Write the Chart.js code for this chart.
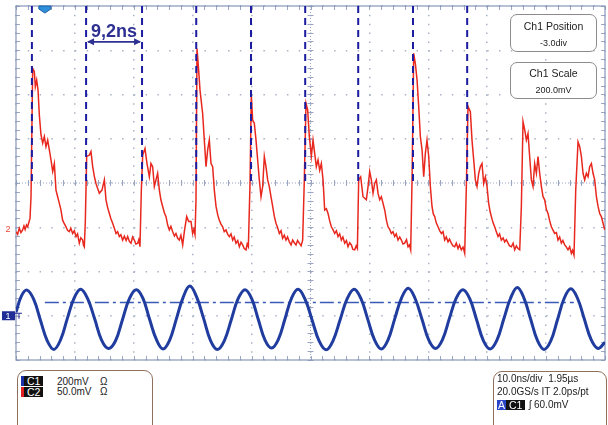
<!DOCTYPE html>
<html><head><meta charset="utf-8">
<script src="https://cdn.jsdelivr.net/npm/chart.js@4.4.0/dist/chart.umd.min.js"></script>
<style>
html,body{margin:0;padding:0;background:#fff;}
#wrap{position:relative;width:608px;height:425px;overflow:hidden;font-family:"Liberation Sans",Arial,Helvetica,sans-serif;color:#222;}
canvas{position:absolute;left:0;top:0;}
.box{position:absolute;background:#fff;box-sizing:border-box;}
.ibox{border:1.5px solid #8c8c8c;border-radius:7px;text-align:center;}
.ibox .a{position:absolute;left:0;right:0;font-size:10.5px;}
.ibox .b{position:absolute;left:0;right:0;font-size:9px;}
.pbox{border:1.5px solid #8e705c;border-radius:9px;}
.row{position:absolute;font-size:10px;line-height:11px;white-space:pre;}
.tag{position:absolute;background:#111;color:#fff;font-size:10.5px;line-height:10px;height:10px;padding:0 3px;}
.stripe{position:absolute;width:3px;height:10px;}
</style></head><body>
<div id="wrap">
<canvas id="c" width="608" height="425"></canvas>
<div class="box ibox" style="left:510px;top:14px;width:87px;height:38px;">
  <div class="a" style="top:5px;">Ch1 Position</div>
  <div class="b" style="top:23px;">-3.0div</div>
</div>
<div class="box ibox" style="left:510px;top:62px;width:87px;height:37px;">
  <div class="a" style="top:4px;">Ch1 Scale</div>
  <div class="b" style="top:22px;">200.0mV</div>
</div>
<div class="box pbox" style="left:17px;top:370px;width:136px;height:70px;">
  <div class="stripe" style="left:3px;top:5px;background:#1a2fa8;"></div>
  <div class="tag" style="left:6px;top:5px;">C1</div>
  <div class="row" style="left:39px;top:5px;">200mV</div>
  <div class="row" style="left:82px;top:5px;">Ω</div>
  <div class="stripe" style="left:3px;top:16px;background:#e02020;"></div>
  <div class="tag" style="left:6px;top:16px;">C2</div>
  <div class="row" style="left:39px;top:15px;">50.0mV</div>
  <div class="row" style="left:82px;top:15px;">Ω</div>
</div>
<div class="box pbox" style="left:493px;top:371px;width:114px;height:70px;">
  <div class="row" style="left:3px;top:1px;">10.0ns/div  1.95µs</div>
  <div class="row" style="left:3px;top:14px;">20.0GS/s IT 2.0ps/pt</div>
  <div class="tag" style="left:3px;top:28px;background:#2a44c8;padding:0 1px;">A</div>
  <div class="tag" style="left:12px;top:28px;">C1</div>
  <div class="row" style="left:35px;top:27px;">ʃ 60.0mV</div>
</div>
</div>
<script>
// ---- data (time in ns, level in divisions) ----
const ch2Samples = [
[0.00,-1.10],[0.28,-1.16],[0.55,-1.02],[0.84,-1.12],[1.13,-1.06],[1.35,-0.97],[1.55,-1.05],[1.78,-0.95],[1.98,-0.99],[2.20,-0.88],[2.38,-0.80],
[2.55,-0.31],[2.83,2.59],[3.11,2.52],[3.28,2.18],[3.51,2.33],[3.74,2.10],[3.96,1.54],[4.24,1.09],[4.53,0.90],[4.81,1.05],[5.09,0.82],[5.38,0.97],[5.66,0.75],[5.94,0.52],[6.23,0.26],[6.51,0.44],
[6.79,-0.16],[7.05,-0.30],[7.36,-0.46],[7.62,-0.60],[7.92,-0.84],[8.20,-0.92],[8.49,-0.99],[8.75,-1.07],[9.05,-1.10],[9.30,-1.02],[9.62,-1.14],[9.90,-1.08],[10.19,-1.21],[10.45,-1.15],[10.75,-1.36],[11.00,-1.24],[11.32,-1.29],[11.45,-1.40],[11.60,-1.44],[11.77,-0.87],
[12.00,0.60],[12.45,0.63],[12.73,0.71],[13.02,0.37],[13.30,0.15],[13.58,-0.01],[13.85,-0.12],[14.15,-0.23],[14.60,-0.16],[15.00,0.07],
[15.28,-0.38],[15.55,-0.55],[15.85,-0.69],[16.10,-0.80],[16.41,-0.91],[16.70,-1.02],[16.98,-1.14],[17.25,-1.10],[17.54,-1.21],[17.80,-1.17],[18.11,-1.29],[18.40,-1.20],[18.70,-1.30],[18.96,-1.21],[19.25,-1.32],[19.52,-1.36],[19.80,-1.22],[20.09,-1.29],[20.35,-1.38],[20.66,-1.36],[20.85,-1.28],[21.05,-1.44],
[21.28,-0.16],[21.51,0.63],[21.90,0.78],[22.24,0.44],[22.64,0.14],[22.92,0.44],[23.20,0.37],[23.49,-0.08],[24.05,0.22],
[24.34,-0.16],[24.60,-0.38],[24.90,-0.53],[25.20,-0.68],[25.47,-0.76],[25.75,-0.95],[26.03,-1.06],[26.30,-0.98],[26.60,-1.10],[26.90,-1.20],[27.16,-1.14],[27.45,-1.25],[27.73,-1.29],[28.00,-1.18],[28.30,-1.40],[28.58,-1.10],[28.98,-0.76],[29.32,-0.87],[29.71,-0.87],[29.99,-1.14],[30.20,-1.05],[30.39,-1.17],
[30.56,-0.38],[30.73,3.04],[31.01,2.55],[31.24,2.10],[31.69,1.57],[31.97,0.97],[32.26,0.37],[32.54,0.75],[32.82,0.97],[33.11,0.44],[33.39,0.37],[33.67,-0.16],
[33.96,-0.53],[34.25,-0.72],[34.52,-0.84],[34.80,-0.93],[35.09,-0.99],[35.35,-1.10],[35.65,-1.06],[35.95,-1.16],[36.22,-1.21],[36.50,-1.15],[36.79,-1.29],[37.05,-1.22],[37.35,-1.36],[37.65,-1.30],[37.92,-1.44],[38.20,-1.34],[38.48,-1.40],[38.75,-1.48],[39.05,-1.51],[39.25,-1.38],[39.45,-1.44],
[39.73,-0.01],[39.95,1.99],[40.18,1.42],[40.46,1.35],[40.75,0.97],[41.03,0.52],[41.31,0.07],[41.60,-0.31],[41.88,-0.08],[42.16,0.60],[42.44,0.37],[42.73,0.07],[43.01,-0.08],[43.29,-0.31],
[43.58,-0.53],[43.85,-0.75],[44.14,-0.91],[44.40,-1.00],[44.71,-1.14],[45.00,-1.08],[45.27,-1.25],[45.55,-1.18],[45.84,-1.29],[46.10,-1.22],[46.41,-1.33],[46.70,-1.40],[46.97,-1.29],[47.25,-1.35],[47.54,-1.40],[47.80,-1.30],[48.10,-1.36],[48.40,-1.42],[48.67,-1.29],
[48.95,0.07],[49.24,1.80],[49.52,1.65],[49.80,1.05],[50.14,0.60],[50.43,0.97],[50.71,0.67],[50.99,0.37],[51.28,0.52],[51.56,0.29],[51.84,0.44],[52.13,0.07],
[52.41,-0.61],[52.70,-0.58],[52.98,-0.69],[53.25,-0.85],[53.54,-0.99],[53.80,-1.05],[54.11,-1.14],[54.40,-1.08],[54.67,-1.21],[54.95,-1.15],[55.24,-1.29],[55.50,-1.22],[55.81,-1.36],[56.10,-1.30],[56.37,-1.44],[56.65,-1.35],[56.94,-1.40],[57.20,-1.50],[57.50,-1.51],[57.75,-1.42],[57.96,-1.48],
[58.18,0.07],[58.52,0.14],[58.92,-0.31],[59.48,-0.38],[59.77,-0.08],[60.05,0.26],[60.33,0.07],[60.62,-0.23],[60.90,-0.01],[61.18,0.07],[61.46,-0.23],[61.75,-0.38],[62.03,-0.31],
[62.60,-0.61],[62.90,-0.85],[63.16,-0.99],[63.45,-1.05],[63.73,-1.14],[64.00,-1.10],[64.29,-1.21],[64.55,-1.15],[64.86,-1.29],[65.15,-1.22],[65.43,-1.29],[65.70,-1.38],[65.99,-1.36],[66.30,-1.28],[66.56,-1.44],[66.80,-1.40],[67.01,-1.51],
[67.24,0.07],[67.52,2.93],[67.80,2.70],[68.09,2.33],[68.37,1.73],[68.65,1.05],[68.94,0.75],[69.22,0.14],[69.50,0.67],[69.78,0.97],[70.07,0.60],[70.35,-0.08],
[70.63,-0.53],[70.85,-0.70],[71.09,-0.76],[71.35,-0.90],[71.65,-0.99],[71.95,-1.08],[72.22,-1.14],[72.50,-1.10],[72.78,-1.29],[73.05,-1.22],[73.35,-1.33],[73.60,-1.27],[73.91,-1.36],[74.20,-1.42],[74.48,-1.44],[74.75,-1.36],[75.05,-1.48],[75.30,-1.40],[75.61,-1.51],[75.90,-1.45],[76.18,-1.59],
[76.46,-0.08],[76.74,1.73],[77.14,1.61],[77.42,0.97],[77.71,0.52],[77.99,0.07],[78.27,-0.08],[78.56,0.22],[78.84,0.37],[79.12,0.44],[79.40,-0.01],[79.69,0.14],[79.97,-0.08],
[80.25,-0.46],[80.50,-0.65],[80.71,-0.76],[81.00,-0.90],[81.27,-0.99],[81.55,-1.10],[81.84,-1.21],[82.10,-1.15],[82.40,-1.29],[82.70,-1.24],[82.97,-1.33],[83.25,-1.28],[83.54,-1.36],[83.80,-1.42],[84.10,-1.44],[84.40,-1.36],[84.67,-1.51],[84.95,-1.42],[85.23,-1.48],[85.52,-1.51],
[85.80,-0.53],[86.08,1.39],[86.37,1.20],[86.65,0.97],[86.93,1.12],[87.21,0.60],[87.50,0.07],[87.78,-0.08],[88.06,0.44],[88.35,0.22],[88.63,0.60],[88.91,0.22],[89.20,-0.08],[89.48,-0.31],
[89.76,-0.38],[90.05,-0.60],[90.33,-0.69],[90.60,-0.85],[90.89,-0.99],[91.15,-1.06],[91.46,-1.14],[91.75,-1.12],[92.02,-1.29],[92.30,-1.22],[92.59,-1.36],[92.85,-1.30],[93.16,-1.40],[93.45,-1.45],[93.72,-1.51],[94.00,-1.44],[94.29,-1.59],[94.50,-1.52],[94.74,-1.63],
[95.03,-0.16],[95.42,0.93],[95.71,0.82],[95.99,0.60],[96.27,0.22],[96.55,0.07],[96.84,0.22],[97.12,0.14],[97.40,0.37],[97.69,0.44],[97.97,0.22],[98.25,0.07],[98.54,-0.31],[98.82,-0.53],[99.10,-0.69],[99.38,-0.76],[99.67,-0.91],[99.95,-1.06]
];
const ch1Samples = [
[0,-2.92],[0.93,-2.55],
[1.87,-2.42],[3.01,-2.63],[4.15,-3.10],[5.29,-3.56],[6.44,-3.76],[7.58,-3.54],[8.72,-3.06],[9.86,-2.60],
[11.0,-2.40],[12.18,-2.62],[13.35,-3.07],[14.53,-3.55],[15.7,-3.74],[16.88,-3.57],[18.05,-3.10],[19.23,-2.62],
[20.4,-2.41],[21.54,-2.60],[22.68,-3.08],[23.81,-3.53],[24.95,-3.75],[26.09,-3.55],[27.23,-3.07],[28.36,-2.59],
[29.5,-2.33],[30.68,-2.58],[31.85,-3.06],[33.03,-3.56],[34.2,-3.76],[35.38,-3.56],[36.55,-3.09],[37.73,-2.61],
[38.9,-2.41],[40.03,-2.62],[41.15,-3.09],[42.28,-3.55],[43.4,-3.73],[44.53,-3.54],[45.65,-3.08],[46.78,-2.60],
[47.9,-2.40],[49.09,-2.63],[50.28,-3.10],[51.46,-3.57],[52.65,-3.77],[53.84,-3.56],[55.03,-3.09],[56.21,-2.62],
[57.4,-2.40],[58.55,-2.61],[59.7,-3.07],[60.85,-3.54],[62.0,-3.75],[63.15,-3.55],[64.3,-3.07],[65.45,-2.60],
[66.6,-2.38],[67.76,-2.61],[68.93,-3.08],[70.09,-3.55],[71.25,-3.74],[72.41,-3.54],[73.58,-3.06],[74.74,-2.60],
[75.9,-2.41],[77.05,-2.62],[78.2,-3.09],[79.35,-3.56],[80.5,-3.75],[81.65,-3.55],[82.8,-3.08],[83.95,-2.61],
[85.1,-2.36],[86.24,-2.60],[87.38,-3.08],[88.51,-3.55],[89.65,-3.76],[90.79,-3.57],[91.93,-3.09],[93.06,-2.61],
[94.2,-2.39],[95.35,-2.61],[96.5,-3.08],[97.65,-3.54],[98.8,-3.74],[100,-3.60]
];
const cursorTimes = [2.7, 11.9, 21.4, 30.6, 39.9, 49.1, 58.1, 67.4, 76.6];
const cursorSpan = [0, 4];            // cursor lines run from level 0 to top
const triggerLevel = -2.7;            // 60 mV on Ch1 (200 mV/div, -3 div offset)
const triggerSpan = [4.9, 94.7];
const triggerTime = 4.9;
const ch1Ground = -3.0, ch2Ground = -1.04;
const periodMark = {from: 11.9, to: 21.4, level: 3.19, label: '9,2ns'};
const timeRange = [0, 100], levelRange = [-4, 4];

const cursorData = [];
cursorTimes.forEach(t => { cursorData.push({x:t,y:cursorSpan[1]},{x:t,y:cursorSpan[0]},{x:t,y:null}); });

const scopePlugin = {
  id: 'scope',
  beforeDatasetsDraw(chart) {
    const {ctx, chartArea: a, scales: {x, y}} = chart;
    ctx.save();
    const cx = x.getPixelForValue(50), cy = y.getPixelForValue(0);
    ctx.strokeStyle = '#9aa6c2'; ctx.lineWidth = 1;
    ctx.setLineDash([1, 2]);
    ctx.beginPath(); ctx.moveTo(a.left, cy); ctx.lineTo(a.right, cy); ctx.moveTo(cx, a.top); ctx.lineTo(cx, a.bottom); ctx.stroke();
    ctx.setLineDash([]);
    ctx.beginPath();
    for (let t = 0; t <= 100.01; t += 2) {
      const px = Math.round(x.getPixelForValue(t)) + 0.5;
      ctx.moveTo(px, cy - 3); ctx.lineTo(px, cy + 3);
      ctx.moveTo(px, a.top); ctx.lineTo(px, a.top + 4);
      ctx.moveTo(px, a.bottom); ctx.lineTo(px, a.bottom - 4);
    }
    for (let v = -4; v <= 4.01; v += 0.2) {
      const py = Math.round(y.getPixelForValue(v)) + 0.5;
      ctx.moveTo(cx - 3, py); ctx.lineTo(cx + 3, py);
      ctx.moveTo(a.left, py); ctx.lineTo(a.left + 4, py);
      ctx.moveTo(a.right, py); ctx.lineTo(a.right - 4, py);
    }
    ctx.stroke();
    ctx.strokeStyle = '#8797b8'; ctx.lineWidth = 1.2;
    ctx.strokeRect(a.left, a.top, a.right - a.left, a.bottom - a.top);
    ctx.restore();
  },
  afterDatasetsDraw(chart) {
    const {ctx, chartArea: a, scales: {x, y}} = chart;
    ctx.save();
    const x1 = x.getPixelForValue(periodMark.from), x2 = x.getPixelForValue(periodMark.to), py = y.getPixelForValue(periodMark.level);
    ctx.strokeStyle = '#2e3192'; ctx.fillStyle = '#2e3192'; ctx.lineWidth = 1.6;
    ctx.beginPath(); ctx.moveTo(x1 + 2, py); ctx.lineTo(x2 - 2, py); ctx.stroke();
    ctx.beginPath(); ctx.moveTo(x1 + 1, py); ctx.lineTo(x1 + 8, py - 3.5); ctx.lineTo(x1 + 8, py + 3.5); ctx.closePath(); ctx.fill();
    ctx.beginPath(); ctx.moveTo(x2 - 1, py); ctx.lineTo(x2 - 8, py - 3.5); ctx.lineTo(x2 - 8, py + 3.5); ctx.closePath(); ctx.fill();
    ctx.font = 'bold 18px "Liberation Sans", Arial, sans-serif';
    ctx.textAlign = 'center'; ctx.textBaseline = 'alphabetic';
    ctx.fillText(periodMark.label, (x1 + x2) / 2, py - 4.5);
    const tx = x.getPixelForValue(triggerTime);
    ctx.fillStyle = '#2f8fd8'; ctx.strokeStyle = '#1a5fa8'; ctx.lineWidth = 1;
    ctx.beginPath(); ctx.moveTo(tx - 6, a.top); ctx.lineTo(tx + 6, a.top); ctx.lineTo(tx + 6, a.top + 3); ctx.lineTo(tx, a.top + 7); ctx.lineTo(tx - 6, a.top + 3); ctx.closePath(); ctx.fill(); ctx.stroke();
    const g2 = y.getPixelForValue(ch2Ground), g1 = y.getPixelForValue(ch1Ground);
    ctx.font = '9px "Liberation Sans", Arial, sans-serif';
    ctx.textAlign = 'center'; ctx.textBaseline = 'middle';
    ctx.fillStyle = '#e8473a'; ctx.fillText('2', 8, g2);
    ctx.fillStyle = '#1f2f95'; ctx.fillRect(2, g1 - 4.5, 13, 9);
    ctx.fillStyle = '#fff'; ctx.fillText('1', 8, g1 + 0.5);
    ctx.strokeStyle = '#1f2f95'; ctx.lineWidth = 1;
    ctx.beginPath(); ctx.moveTo(15, g1 - 2.5); ctx.lineTo(22, g1 - 2.5); ctx.moveTo(19, g1 - 2.5); ctx.lineTo(19, g1 + 3); ctx.stroke();
    ctx.restore();
  }
};

new Chart(document.getElementById('c'), {
  type: 'line',
  data: {
    datasets: [
      {label: 'cursors', data: cursorData, borderColor: '#1c1ca0', borderWidth: 2, borderDash: [7, 5], pointRadius: 0, spanGaps: false, order: 0},
      {label: 'C2', data: ch2Samples.map(p => ({x: p[0], y: p[1]})), borderColor: '#e8281e', borderWidth: 1.5, pointRadius: 0, tension: 0, order: 1},
      {label: 'C1', data: ch1Samples.map(p => ({x: p[0], y: p[1]})), borderColor: '#1f3c9e', borderWidth: 3, pointRadius: 0, tension: 0.4, order: 2},
      {label: 'trigger', data: triggerSpan.map(t => ({x: t, y: triggerLevel})), borderColor: '#3a5ab8', borderWidth: 1.3, borderDash: [14, 4, 3, 4], pointRadius: 0, order: 3}
    ]
  },
  options: {
    responsive: false, animation: false, devicePixelRatio: 1,
    layout: {padding: {left: 16, top: 6, right: 3, bottom: 65}},
    plugins: {legend: {display: false}, tooltip: {enabled: false}},
    scales: {
      x: {type: 'linear', min: timeRange[0], max: timeRange[1], ticks: {display: false, stepSize: 10},
          grid: {color: '#a9b2c6', lineWidth: 1.5, drawTicks: false}, border: {display: false, dash: [1.5, 7.35]}},
      y: {type: 'linear', min: levelRange[0], max: levelRange[1], ticks: {display: false, stepSize: 1},
          grid: {color: '#a9b2c6', lineWidth: 1.5, drawTicks: false}, border: {display: false, dash: [1.5, 10.28]}}
    }
  },
  plugins: [scopePlugin]
});
</script>
</body></html>
